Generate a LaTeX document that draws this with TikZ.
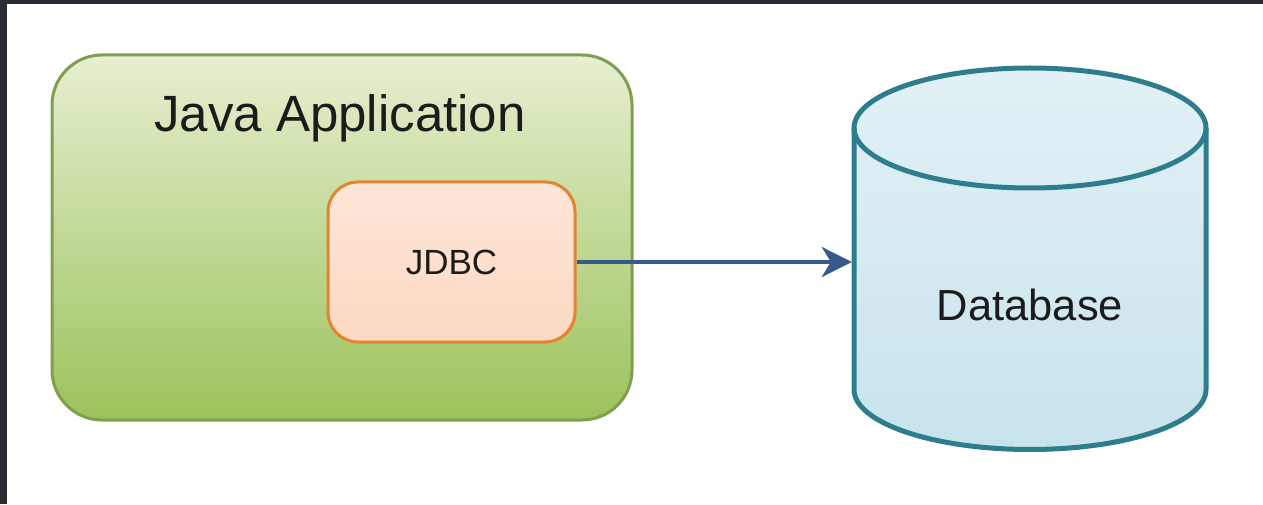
\documentclass[tikz,border=0pt]{standalone}
\usepackage{fontspec}
\setmainfont{Liberation Sans}
\usetikzlibrary{arrows.meta}
\definecolor{appline}{HTML}{7F9F50}
\definecolor{apptop}{HTML}{E6EFD0}
\definecolor{appbot}{HTML}{9CC25B}
\definecolor{jdbcline}{HTML}{E5842E}
\definecolor{jdbctop}{HTML}{FDE6D8}
\definecolor{jdbcbot}{HTML}{FCD8C2}
\definecolor{dbline}{HTML}{2D7D8D}
\definecolor{dbtop}{HTML}{E2F1F6}
\definecolor{dbbot}{HTML}{C8E3EC}
\definecolor{arrowblue}{HTML}{365A8B}
\definecolor{frame}{HTML}{292C33}
\definecolor{ink}{HTML}{1B1B1B}
\begin{document}
\begin{tikzpicture}[x=1pt,y=1pt,
  app/.style={draw=appline, line width=3pt, rounded corners=50pt, top color=apptop, bottom color=appbot, minimum width=580pt, minimum height=365pt},
  jdbc/.style={draw=jdbcline, line width=3pt, rounded corners=30pt, top color=jdbctop, bottom color=jdbcbot, minimum width=247pt, minimum height=160pt},
  label/.style={text=ink, inner sep=0pt}]
\useasboundingbox (0,0) rectangle (1263,504);
\fill[white] (0,0) rectangle (1263,504);
\fill[frame] (0,0) rectangle (7,504);
\fill[frame] (0,500) rectangle (1263,504);
\node[app] (app) at (342,266.5){};
\node[label, font=\fontsize{51}{60}\selectfont] (apptitle) at (340,386){Java Application};
\node[jdbc, font=\fontsize{35}{42}\selectfont, text=ink] (jdbcbox) at (451.5,242){JDBC};
% database cylinder
\path[top color=dbtop, bottom color=dbbot] (854,376) -- (854,114.5) arc[start angle=180, end angle=360, x radius=176, y radius=60] -- (1206,376) arc[start angle=0, end angle=180, x radius=176, y radius=60] -- cycle;
\draw[dbline, line width=5pt] (854,376) -- (854,114.5) arc[start angle=180, end angle=360, x radius=176, y radius=60] -- (1206,376);
\draw[dbline, line width=5pt] (1030,376) ellipse[x radius=176, y radius=60];
\node[minimum width=356pt, minimum height=262pt, inner sep=0pt] (db) at (1030,245){};
\node[label, font=\fontsize{43.5}{52}\selectfont] (dbname) at (1030,199){Database};
\draw[arrowblue, line width=4pt, -{Stealth[length=30pt, width=30pt, inset=9pt]}] (jdbcbox.east) -- (jdbcbox.east -| db.west);
\end{tikzpicture}
\end{document}
